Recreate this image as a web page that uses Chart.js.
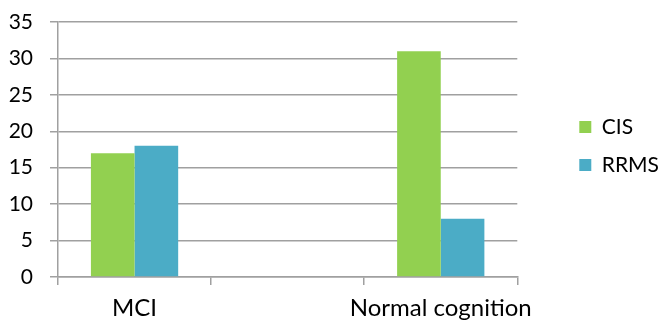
<!DOCTYPE html>
<html>
<head>
<meta charset="utf-8">
<script src="https://cdn.jsdelivr.net/npm/chart.js@4/dist/chart.umd.min.js"></script>
<style>
  html, body { margin: 0; padding: 0; background: #fff; overflow: hidden; }
  #wrap { position: absolute; left: 0; top: 0; width: 661px; height: 320px; }
</style>
</head>
<body>
<div id="wrap"><canvas id="chart" width="661" height="320"></canvas></div>
<script>
// categories (the middle slot is an empty one, like in the original sheet)
const categories = ['MCI', '', 'Normal cognition'];
const cisValues = [17, null, 31];
const rrmsValues = [18, null, 8];
const yMin = 0;
const yMax = 35;
const yStep = 5;

const gridColor = '#a0a0a0';
const fontFamily = 'Lato, "Open Sans", sans-serif';

const ctx = document.getElementById('chart');
new Chart(ctx, {
    type: 'bar',
    data: {
        labels: categories,
        datasets: [
            {
                label: 'CIS',
                data: cisValues,
                backgroundColor: '#92d050',
                borderWidth: 0,
                categoryPercentage: 0.57,
                barPercentage: 1.0,
            },
            {
                label: 'RRMS',
                data: rrmsValues,
                backgroundColor: '#4bacc6',
                borderWidth: 0,
                categoryPercentage: 0.57,
                barPercentage: 1.0,
            },
        ],
    },
    options: {
        responsive: false,
        animation: false,
        devicePixelRatio: 1,
        layout: { padding: { top: 0, right: -8, bottom: 0, left: 0 } },
        plugins: {
            tooltip: { enabled: false },
            legend: {
                position: 'right',
                align: 'start',
                title: { display: true, text: '', padding: { top: 85, bottom: 0 } },
                labels: {
                    boxWidth: 12,
                    boxHeight: 12,
                    padding: 17,
                    color: '#000',
                    font: { family: fontFamily, size: 21 },
                },
            },
        },
        scales: {
            x: {
                grid: {
                    offset: true,
                    drawOnChartArea: false,
                    drawTicks: true,
                    tickLength: 8,
                    color: gridColor,
                    lineWidth: 1.5,
                },
                border: { color: gridColor, width: 1.5 },
                ticks: {
                    color: '#000',
                    padding: 9,
                    maxRotation: 0,
                    autoSkip: false,
                    font: { family: fontFamily, size: 24 },
                },
                afterFit(scale) { scale.height = 43; },
            },
            y: {
                min: yMin,
                max: yMax,
                grid: { color: gridColor, lineWidth: 1.5, tickLength: 8 },
                border: { color: gridColor, width: 1.5 },
                ticks: {
                    stepSize: yStep,
                    color: '#000',
                    padding: 17,
                    font: { family: fontFamily, size: 21 },
                },
                afterFit(scale) {
                    scale.width = 58;
                    scale.paddingTop = 22;
                    scale.paddingBottom = 0;
                },
            },
            // empty spacer so the legend sits away from the plot like the original
            spacer: {
                position: 'right',
                display: true,
                grid: { display: false },
                border: { display: false },
                ticks: { display: false },
                afterFit(scale) { scale.width = 45; },
            },
        },
    },
});
</script>
</body>
</html>
